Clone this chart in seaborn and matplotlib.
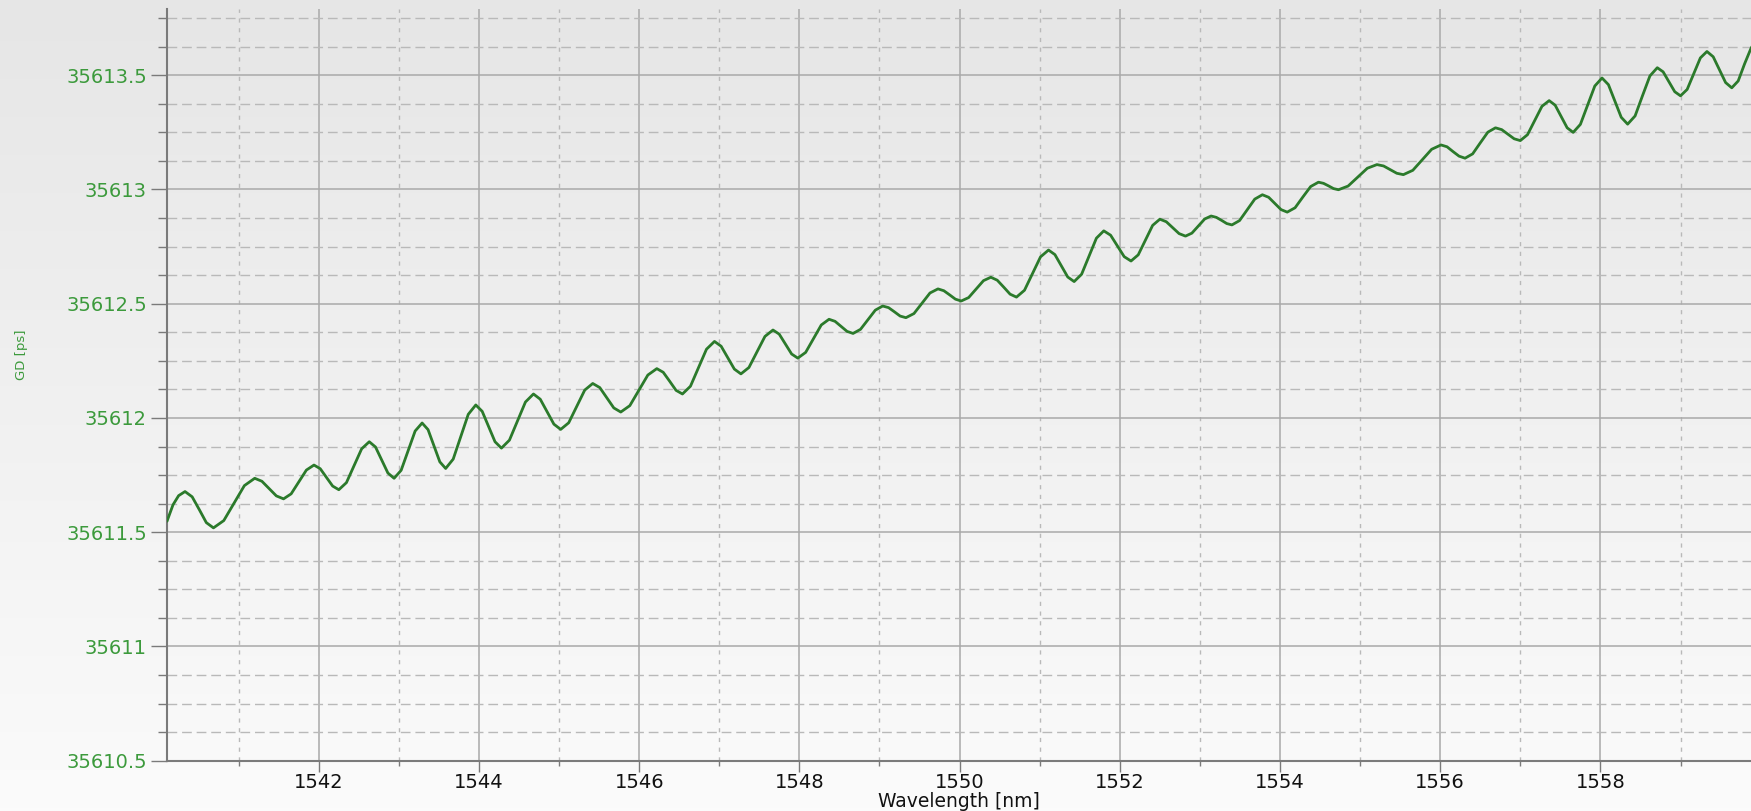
import numpy as np
import pandas as pd
import matplotlib
matplotlib.use("Agg")
import matplotlib.pyplot as plt
from matplotlib.colors import LinearSegmentedColormap
from matplotlib.ticker import FixedLocator, MultipleLocator
import seaborn as sns

# ---------------- data ----------------
wavelength_nm = [
    1540.105, 1540.18, 1540.25, 1540.33, 1540.419, 1540.508, 1540.596, 1540.685,
    1540.814, 1540.943, 1541.071, 1541.20, 1541.29, 1541.38, 1541.47, 1541.56,
    1541.655, 1541.75, 1541.845, 1541.94, 1542.018, 1542.095, 1542.173, 1542.25,
    1542.345, 1542.44, 1542.535, 1542.63, 1542.708, 1542.785, 1542.863, 1542.94,
    1543.028, 1543.115, 1543.203, 1543.29, 1543.364, 1543.437, 1543.511, 1543.584,
    1543.678, 1543.772, 1543.866, 1543.96, 1544.04, 1544.12, 1544.20, 1544.28,
    1544.38, 1544.48, 1544.58, 1544.68, 1544.765, 1544.85, 1544.935, 1545.02,
    1545.12, 1545.22, 1545.32, 1545.42, 1545.508, 1545.595, 1545.683, 1545.77,
    1545.883, 1545.995, 1546.108, 1546.22, 1546.30, 1546.38, 1546.46, 1546.54,
    1546.64, 1546.74, 1546.84, 1546.94, 1547.023, 1547.105, 1547.188, 1547.27,
    1547.37, 1547.47, 1547.57, 1547.67, 1547.748, 1547.825, 1547.903, 1547.98,
    1548.078, 1548.175, 1548.273, 1548.37, 1548.445, 1548.52, 1548.595, 1548.67,
    1548.763, 1548.855, 1548.948, 1549.04, 1549.113, 1549.185, 1549.258, 1549.33,
    1549.43, 1549.53, 1549.63, 1549.73, 1549.803, 1549.875, 1549.948, 1550.02,
    1550.113, 1550.205, 1550.298, 1550.39, 1550.47, 1550.55, 1550.63, 1550.71,
    1550.81, 1550.91, 1551.01, 1551.11, 1551.19, 1551.27, 1551.35, 1551.43,
    1551.523, 1551.615, 1551.708, 1551.80, 1551.885, 1551.97, 1552.055, 1552.14,
    1552.23, 1552.32, 1552.41, 1552.50, 1552.58, 1552.66, 1552.74, 1552.82,
    1552.90, 1552.98, 1553.06, 1553.14, 1553.205, 1553.27, 1553.335, 1553.40,
    1553.495, 1553.59, 1553.685, 1553.78, 1553.858, 1553.935, 1554.013, 1554.09,
    1554.188, 1554.285, 1554.383, 1554.48, 1554.543, 1554.605, 1554.668, 1554.73,
    1554.85, 1554.97, 1555.09, 1555.21, 1555.293, 1555.375, 1555.458, 1555.54,
    1555.658, 1555.775, 1555.893, 1556.01, 1556.085, 1556.16, 1556.235, 1556.31,
    1556.405, 1556.50, 1556.595, 1556.69, 1556.768, 1556.845, 1556.923, 1557.00,
    1557.09, 1557.18, 1557.27, 1557.36, 1557.435, 1557.51, 1557.585, 1557.66,
    1557.75, 1557.84, 1557.93, 1558.02, 1558.10, 1558.18, 1558.26, 1558.34,
    1558.433, 1558.525, 1558.618, 1558.71, 1558.783, 1558.855, 1558.928, 1559.00,
    1559.083, 1559.165, 1559.248, 1559.33, 1559.408, 1559.485, 1559.563, 1559.64,
    1559.72, 1559.80, 1559.88, 1559.95,
]

group_delay_ps = [
    35611.548, 35611.620, 35611.660, 35611.678, 35611.655, 35611.599, 35611.542, 35611.519,
    35611.551, 35611.628, 35611.704, 35611.736, 35611.723, 35611.691, 35611.659, 35611.646,
    35611.668, 35611.720, 35611.772, 35611.794, 35611.778, 35611.740, 35611.702, 35611.686,
    35611.717, 35611.791, 35611.865, 35611.896, 35611.873, 35611.816, 35611.759, 35611.736,
    35611.771, 35611.857, 35611.943, 35611.978, 35611.949, 35611.879, 35611.808, 35611.779,
    35611.820, 35611.918, 35612.016, 35612.057, 35612.029, 35611.963, 35611.896, 35611.868,
    35611.903, 35611.987, 35612.070, 35612.105, 35612.082, 35612.028, 35611.973, 35611.950,
    35611.979, 35612.051, 35612.122, 35612.151, 35612.133, 35612.089, 35612.044, 35612.026,
    35612.054, 35612.121, 35612.188, 35612.216, 35612.200, 35612.161, 35612.121, 35612.105,
    35612.139, 35612.220, 35612.301, 35612.335, 35612.314, 35612.264, 35612.214, 35612.193,
    35612.221, 35612.289, 35612.357, 35612.385, 35612.367, 35612.324, 35612.280, 35612.262,
    35612.287, 35612.347, 35612.407, 35612.432, 35612.423, 35612.401, 35612.379, 35612.370,
    35612.388, 35612.430, 35612.472, 35612.490, 35612.483, 35612.465, 35612.446, 35612.439,
    35612.457, 35612.502, 35612.547, 35612.565, 35612.557, 35612.539, 35612.520, 35612.512,
    35612.527, 35612.564, 35612.601, 35612.616, 35612.603, 35612.573, 35612.542, 35612.529,
    35612.559, 35612.632, 35612.705, 35612.735, 35612.715, 35612.666, 35612.617, 35612.597,
    35612.629, 35612.708, 35612.787, 35612.819, 35612.800, 35612.753, 35612.706, 35612.687,
    35612.714, 35612.779, 35612.843, 35612.870, 35612.859, 35612.833, 35612.807, 35612.796,
    35612.809, 35612.840, 35612.871, 35612.884, 35612.878, 35612.865, 35612.851, 35612.845,
    35612.864, 35612.911, 35612.958, 35612.977, 35612.966, 35612.939, 35612.912, 35612.901,
    35612.920, 35612.967, 35613.013, 35613.032, 35613.027, 35613.016, 35613.004, 35612.999,
    35613.015, 35613.054, 35613.093, 35613.109, 35613.103, 35613.087, 35613.071, 35613.065,
    35613.084, 35613.130, 35613.176, 35613.195, 35613.187, 35613.166, 35613.146, 35613.137,
    35613.156, 35613.204, 35613.251, 35613.270, 35613.262, 35613.242, 35613.222, 35613.214,
    35613.240, 35613.302, 35613.364, 35613.389, 35613.369, 35613.320, 35613.270, 35613.250,
    35613.285, 35613.369, 35613.453, 35613.488, 35613.459, 35613.387, 35613.316, 35613.286,
    35613.322, 35613.410, 35613.497, 35613.533, 35613.515, 35613.472, 35613.428, 35613.410,
    35613.438, 35613.507, 35613.576, 35613.604, 35613.581, 35613.525, 35613.468, 35613.445,
    35613.475, 35613.550, 35613.618, 35613.660,
]

x_major_ticks = [1542, 1544, 1546, 1548, 1550, 1552, 1554, 1556, 1558]
x_tick_labels = ["1542", "1544", "1546", "1548", "1550", "1552", "1554", "1556", "1558"]
y_major_ticks = [35610.5, 35611.0, 35611.5, 35612.0, 35612.5, 35613.0, 35613.5]
y_tick_labels = ["35610.5", "35611", "35611.5", "35612", "35612.5", "35613", "35613.5"]

x_label = "Wavelength [nm]"
y_label = "GD [ps]"

df = pd.DataFrame({"wavelength": wavelength_nm, "gd": group_delay_ps})

# ---------------- styling ----------------
sns.set_style("white")
plt.rcParams["font.family"] = ["DejaVu Sans"]

W, H, DPI = 1751, 811, 100
fig = plt.figure(figsize=(W / DPI, H / DPI), dpi=DPI)

# vertical gray gradient background (whole picture)
bg = fig.add_axes([0, 0, 1, 1], zorder=-5)
grad = np.linspace(0, 1, 256).reshape(-1, 1)
cmap = LinearSegmentedColormap.from_list("bg", ["#e6e6e6", "#fbfbfb"])
bg.imshow(grad, aspect="auto", cmap=cmap, extent=[0, 1, 0, 1], origin="upper")
bg.set_axis_off()

left = 167 / W
bottom = 1 - 760.7 / H
top = 1 - 9 / H
ax = fig.add_axes([left, bottom, 1 - left, top - bottom], zorder=1)
ax.set_facecolor("none")

sns.lineplot(data=df, x="wavelength", y="gd", ax=ax, color="#2b7a2b",
             linewidth=2.0, zorder=5, sort=True, estimator=None,
             solid_joinstyle="round")

ax.set_xlim(1540.105, 1559.88)
ax.set_ylim(35610.5, 35613.79)

ax.xaxis.set_major_locator(FixedLocator(x_major_ticks))
ax.set_xticklabels(x_tick_labels)
ax.yaxis.set_major_locator(FixedLocator(y_major_ticks))
ax.set_yticklabels(y_tick_labels)
ax.xaxis.set_minor_locator(MultipleLocator(1))
ax.yaxis.set_minor_locator(MultipleLocator(0.125))

grid_major = "#a9a9a9"
grid_minor = "#b9b9b9"
ax.grid(which="major", axis="both", color=grid_major, linewidth=1.1, linestyle="-", zorder=0)
ax.xaxis.grid(which="minor", color=grid_minor, linewidth=1.0, linestyle=(0, (3, 4)))
ax.yaxis.grid(which="minor", color=grid_minor, linewidth=1.0, linestyle=(0, (7, 3.5)))
ax.set_axisbelow(True)

for s in ["top", "right"]:
    ax.spines[s].set_visible(False)
for s in ["left", "bottom"]:
    ax.spines[s].set_color("#7a7a7a")
    ax.spines[s].set_linewidth(1.5)

ax.tick_params(axis="y", which="major", direction="out", length=11.5, width=1.0,
               color="#7a7a7a", labelcolor="#3c9a3c", labelsize=14, pad=3, left=True)
ax.tick_params(axis="y", which="minor", direction="out", length=6.5, width=1.0,
               color="#7a7a7a", left=True)
ax.tick_params(axis="x", which="major", direction="out", length=8, width=1.0,
               color="#7a7a7a", labelcolor="#111111", labelsize=14, pad=1, bottom=True)
ax.tick_params(axis="x", which="minor", direction="out", length=3.5, width=1.0,
               color="#7a7a7a", bottom=True)

ax.set_xlabel(x_label, fontsize=13.5, color="#111111", labelpad=0)
ax.set_ylabel("")
fig.text(22 / W, 1 - 355 / H, y_label, rotation=90, color="#3c9a3c",
         fontsize=9.5, ha="center", va="center")

fig.savefig("out.png", dpi=DPI)
